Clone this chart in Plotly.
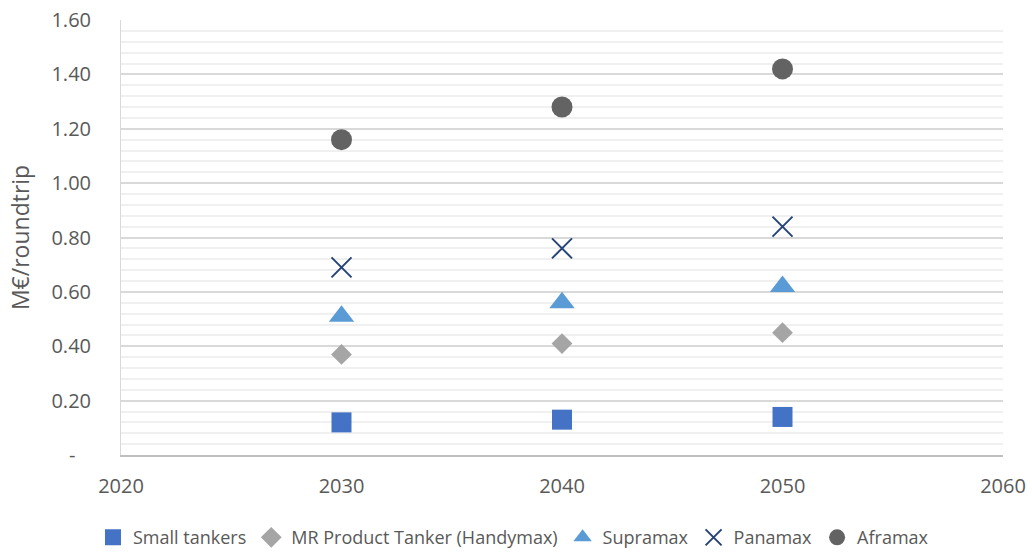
import plotly.graph_objects as go

years = [2030, 2040, 2050]
small_tankers = [0.12, 0.13, 0.14]
mr_product = [0.37, 0.41, 0.45]
supramax = [0.51, 0.56, 0.62]
panamax = [0.69, 0.76, 0.84]
aframax = [1.16, 1.28, 1.42]

y_tick_vals = [0, 0.2, 0.4, 0.6, 0.8, 1.0, 1.2, 1.4, 1.6]
y_tick_text = ["-\u00a0\u00a0\u00a0", "0.20", "0.40", "0.60", "0.80", "1.00", "1.20", "1.40", "1.60"]
x_tick_vals = [2020, 2030, 2040, 2050, 2060]

FONT = "Open Sans, sans-serif"
TEXT = "#595959"

series = [
    ("Small tankers", small_tankers, "square", "#4472C4", 20),
    ("MR Product Tanker (Handymax)", mr_product, "diamond", "#A5A5A5", 16),
    ("Supramax", supramax, "triangle-up", "#5B9BD5", 22),
    ("Panamax", panamax, "x-thin-open", "#264478", 20),
    ("Aframax", aframax, "circle", "#636363", 21),
]

fig = go.Figure()
for name, vals, sym, col, size in series:
    marker = dict(symbol=sym, size=size, color=col)
    if sym == "x-thin-open":
        marker["line"] = dict(color=col, width=2)
    else:
        marker["line"] = dict(width=0)
    fig.add_trace(go.Scatter(x=years, y=vals, mode="markers", name=name, marker=marker))

fig.update_layout(
    width=1032, height=554,
    margin=dict(l=121, r=29, t=20, b=99, autoexpand=False),
    paper_bgcolor="white", plot_bgcolor="white",
    font=dict(family=FONT, size=20, color=TEXT),
    showlegend=True,
    legend=dict(orientation="h", x=0.445, xanchor="center", y=-0.19, yanchor="middle",
                font=dict(size=18, color=TEXT), itemsizing="trace",
                tracegroupgap=0),
    annotations=[dict(
        text="M€/roundtrip", xref="paper", yref="paper", x=-0.115, y=0.5,
        xanchor="center", yanchor="middle", textangle=-90, showarrow=False,
        font=dict(size=23, color=TEXT, family=FONT),
    )],
)
fig.update_xaxes(
    range=[2020, 2060], tickvals=x_tick_vals, showgrid=False, zeroline=False,
    showline=True, linecolor="#BFBFBF", linewidth=1.5, ticks="",
    tickfont=dict(size=20, color=TEXT), ticklabelstandoff=12,
)
fig.update_yaxes(
    range=[0, 1.6], tickvals=y_tick_vals, ticktext=y_tick_text,
    showgrid=True, gridcolor="#D9D9D9", gridwidth=1.5, zeroline=False,
    showline=True, linecolor="#D9D9D9", linewidth=1,
    minor=dict(dtick=0.04, showgrid=True, gridcolor="#F0F0F0", gridwidth=1.5),
    ticks="", tickfont=dict(size=20, color=TEXT), ticklabelstandoff=25,
)

fig.write_html("out.html")
